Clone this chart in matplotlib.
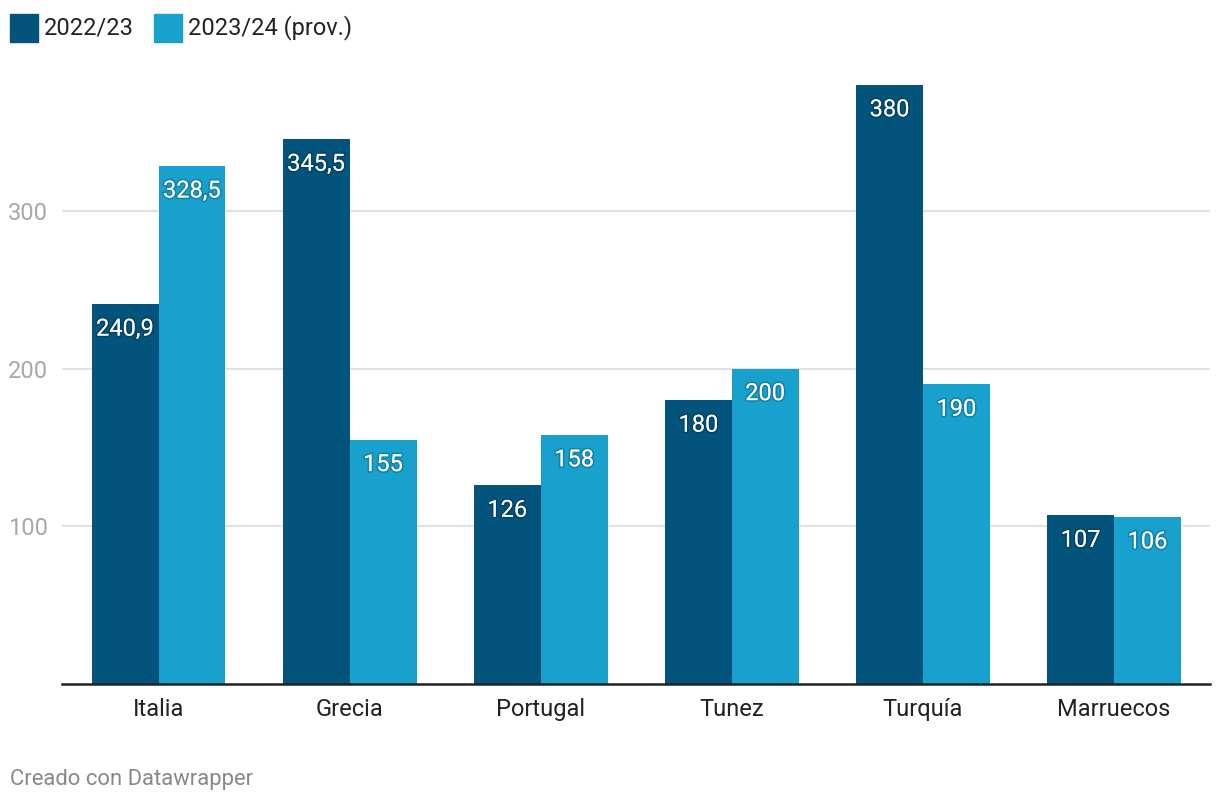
import matplotlib.pyplot as plt
import matplotlib.patheffects as pe
from matplotlib.patches import Rectangle
import numpy as np

plt.rcParams['font.family'] = ['Roboto', 'DejaVu Sans']

paises = ["Italia", "Grecia", "Portugal", "Tunez", "Turquía", "Marruecos"]
v2223 = [240.9, 345.5, 126, 180, 380, 107]
v2324 = [328.5, 155, 158, 200, 190, 106]
series = ["2022/23", "2023/24 (prov.)"]
colores = ["#03547c", "#18a1cd"]
yticks = [100, 200, 300]


def fmt(v):
    s = ("%.1f" % v).rstrip("0").rstrip(".")
    return s.replace(".", ",")


W, H = 1220, 806
fig = plt.figure(figsize=(W / 100, H / 100), dpi=100)
ax = fig.add_axes([62 / W, 122 / H, (1210 - 62) / W, (684 - 69) / H])

x = np.arange(len(paises))
bw = 0.35
shadow = [pe.withStroke(linewidth=2.5, foreground=(0, 0, 0, 0.18))]
for k, vals in enumerate([v2223, v2324]):
    pos = x + (k - 0.5) * bw
    ax.bar(pos, vals, width=bw, color=colores[k], zorder=3)
    for p, v in zip(pos, vals):
        ax.annotate(fmt(v), (p, v), xytext=(0, -25), textcoords="offset pixels",
                    ha="center", va="center", color="white", fontsize=17,
                    path_effects=shadow, zorder=4)

ax.set_xlim(-0.505, 5.502)
ax.set_ylim(0, 390)
ax.set_yticks(yticks)
ax.set_yticklabels([str(t) for t in yticks])
ax.set_xticks(x)
ax.set_xticklabels(paises)
ax.grid(axis="y", color="#e2e2e2", linewidth=1.5, zorder=0)
for s in ["top", "right", "left"]:
    ax.spines[s].set_visible(False)
ax.spines["bottom"].set_color("#222222")
ax.spines["bottom"].set_linewidth(1.8)
ax.spines["bottom"].set_zorder(5)
ax.tick_params(axis="y", length=0, pad=10, labelsize=17, labelcolor="#a8a8a8")
ax.tick_params(axis="x", length=0, pad=10, labelsize=17, labelcolor="#222222")

# leyenda
lx = [10, 154]
for k, name in enumerate(series):
    fig.patches.append(Rectangle((lx[k] / W, (H - 42) / H), 28 / W, 28 / H,
                                 transform=fig.transFigure, color=colores[k]))
    fig.text((lx[k] + 34) / W, (H - 28) / H, name, ha="left", va="center",
             fontsize=17, color="#222222")

fig.text(10 / W, (H - 780) / H, "Creado con Datawrapper", ha="left", va="center",
         fontsize=15.8, color="#888888")

fig.savefig("out.png", dpi=100)
